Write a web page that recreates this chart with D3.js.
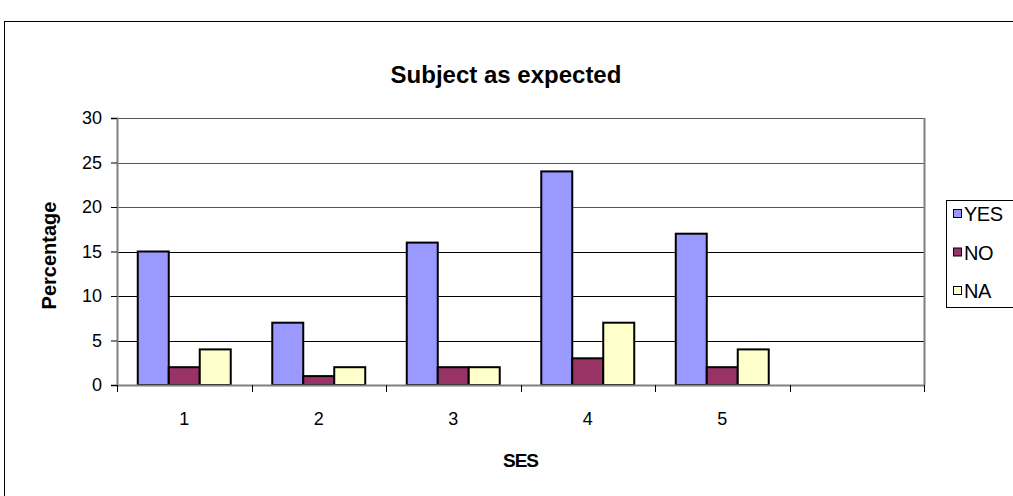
<!DOCTYPE html>
<html>
<head>
<meta charset="utf-8">
<script src="https://cdnjs.cloudflare.com/ajax/libs/d3/7.8.5/d3.min.js"></script>
<style>
  html, body { margin: 0; padding: 0; background: #fff; }
  svg { display: block; font-family: "Liberation Sans", Arial, sans-serif; }
</style>
</head>
<body>
<svg id="chart" width="1013" height="496"></svg>
<script>
// Survey responses by SES group (percentages)
const categories = ["1", "2", "3", "4", "5", ""];
const seriesNames = ["YES", "NO", "NA"];
const yesValues = [15, 7, 16, 24, 17];
const noValues = [2, 1, 2, 3, 2];
const naValues = [4, 2, 2, 7, 4];
const yTicks = [0, 5, 10, 15, 20, 25, 30];
const seriesColors = ["#9999FF", "#993366", "#FFFFCC"];

const seriesValues = [yesValues, noValues, naValues];

const svg = d3.select("#chart");
const W = 1013, H = 496;
const FONT = "Liberation Sans, Arial, sans-serif";

// Outer chart frame
svg.append("rect")
  .attr("x", 4.5).attr("y", 21.5)
  .attr("width", W + 10).attr("height", H + 10)
  .attr("fill", "#fff").attr("stroke", "#000").attr("stroke-width", 1);

const plot = { left: 117, right: 924, top: 118, bottom: 385 };

const x = d3.scaleBand()
  .domain(categories.map((c, i) => i))
  .range([plot.left, plot.right])
  .paddingInner(0).paddingOuter(0);

const x1 = d3.scaleBand()
  .domain(seriesNames)
  .range([0, x.bandwidth()])
  .paddingInner(0).paddingOuter(0.67);

const y = d3.scaleLinear().domain([0, 30]).range([plot.bottom, plot.top]);

// Gridlines
svg.append("g")
  .selectAll("line")
  .data(yTicks.filter(t => t > 0))
  .join("line")
  .attr("x1", plot.left).attr("x2", plot.right)
  .attr("y1", d => Math.round(y(d)) + 0.5).attr("y2", d => Math.round(y(d)) + 0.5)
  .attr("stroke", d => d >= 20 ? "#555" : "#000").attr("stroke-width", 1);

// Plot area right border
svg.append("line")
  .attr("x1", plot.right + 0.5).attr("x2", plot.right + 0.5)
  .attr("y1", plot.top).attr("y2", plot.bottom)
  .attr("stroke", "#808080").attr("stroke-width", 2);

// Bars
const groups = svg.append("g")
  .selectAll("g")
  .data(seriesNames)
  .join("g")
  .attr("fill", (d, i) => seriesColors[i]);

groups.selectAll("rect")
  .data((name, si) => seriesValues[si].map((v, ci) => ({ name, v, ci })))
  .join("rect")
  .attr("x", d => x(d.ci) + x1(d.name))
  .attr("width", x1.bandwidth())
  .attr("y", d => y(d.v))
  .attr("height", d => y(0) - y(d.v))
  .attr("stroke", "#000")
  .attr("stroke-width", 2);

// Y axis
const yAxis = d3.axisLeft(y).tickValues(yTicks).tickSize(6).tickPadding(9);
const gy = svg.append("g")
  .attr("transform", `translate(${plot.left},0)`)
  .call(yAxis);
gy.attr("font-size", 18).attr("font-family", FONT);
gy.select(".domain").attr("stroke", "#808080").attr("stroke-width", 2);
gy.selectAll(".tick line").attr("stroke", "#000");
gy.selectAll(".tick text").attr("fill", "#000");

// X axis: ticks fall on category boundaries
const xAxisLine = svg.append("g");
xAxisLine.append("line")
  .attr("x1", plot.left).attr("x2", plot.right)
  .attr("y1", plot.bottom + 0.5).attr("y2", plot.bottom + 0.5)
  .attr("stroke", "#808080").attr("stroke-width", 2);
const boundaries = categories.map((c, i) => x(i)).concat([plot.right]);
xAxisLine.selectAll(".bt")
  .data(boundaries)
  .join("line")
  .attr("class", "bt")
  .attr("x1", d => Math.round(d) + 0.5).attr("x2", d => Math.round(d) + 0.5)
  .attr("y1", plot.bottom).attr("y2", plot.bottom + 7)
  .attr("stroke", "#000");
xAxisLine.selectAll(".lbl")
  .data(categories)
  .join("text")
  .attr("class", "lbl")
  .attr("x", (d, i) => x(i) + x.bandwidth() / 2)
  .attr("y", 425)
  .attr("text-anchor", "middle")
  .attr("font-size", 18)
  .text(d => d);

// Titles
svg.append("text")
  .attr("x", 506).attr("y", 83)
  .attr("text-anchor", "middle")
  .attr("font-size", 24).attr("font-weight", "bold")
  .text("Subject as expected");

svg.append("text")
  .attr("x", (plot.left + plot.right) / 2).attr("y", 467)
  .attr("text-anchor", "middle")
  .attr("font-size", 19).attr("font-weight", "bold")
  .attr("letter-spacing", -1)
  .text("SES");

svg.append("text")
  .attr("transform", `translate(56,${(198 + 313) / 2}) rotate(-90)`)
  .attr("text-anchor", "middle")
  .attr("font-size", 20).attr("font-weight", "bold")
  .text("Percentage");

// Legend
const legend = svg.append("g");
legend.append("rect")
  .attr("x", 946.5).attr("y", 200.5)
  .attr("width", 80).attr("height", 107)
  .attr("fill", "#fff").attr("stroke", "#000");
const li = legend.selectAll(".li")
  .data(seriesNames)
  .join("g")
  .attr("class", "li")
  .attr("transform", (d, i) => `translate(953,${214 + i * 38.5})`);
li.append("rect")
  .attr("x", 0.5).attr("y", -4.5)
  .attr("width", 8).attr("height", 8)
  .attr("fill", (d, i) => seriesColors[i])
  .attr("stroke", "#000").attr("stroke-width", 1);
li.append("text")
  .attr("x", 11).attr("y", 7)
  .attr("font-size", 20)
  .attr("letter-spacing", -0.5)
  .text(d => d);
</script>
</body>
</html>
